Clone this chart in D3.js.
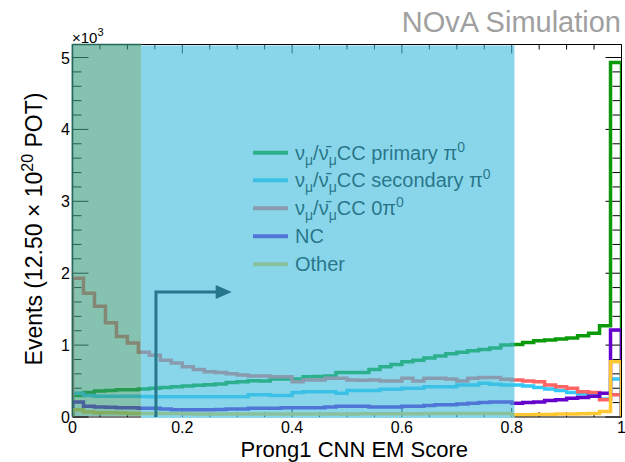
<!DOCTYPE html>
<html>
<head>
<meta charset="utf-8">
<script src="https://cdn.jsdelivr.net/npm/d3@7"></script>
<style>
  html, body { margin: 0; padding: 0; background: #fff; }
  svg { display: block; font-family: "Liberation Sans", Arial, Helvetica, sans-serif; }
</style>
</head>
<body>
<svg id="chart" width="625" height="462"></svg>
<script>
// Prong1 CNN EM score, 50 bins from 0 to 1; events per bin.
const nBins = 50;
const binEdges = d3.range(nBins + 1).map(i => i / nBins);

const primaryPi0 = [300, 340, 360, 370, 380, 380, 390, 400, 410, 420,
  430, 440, 450, 460, 480, 490, 505, 500, 530, 530,
  530, 560, 565, 570, 620, 620, 620, 660, 700, 730,
  770, 790, 820, 850, 880, 900, 920, 940, 960, 1000,
  1010, 1035, 1060, 1070, 1085, 1100, 1130, 1165, 1270, 4930];

const secondaryPi0 = [330, 300, 290, 290, 290, 290, 285, 280, 280, 280,
  280, 280, 280, 280, 280, 280, 310, 310, 300, 300,
  340, 350, 350, 350, 330, 370, 370, 370, 385, 385,
  400, 400, 420, 420, 420, 445, 445, 470, 455, 445,
  445, 430, 410, 390, 370, 340, 320, 300, 250, 530];

const zeroPi0 = [1930, 1720, 1540, 1310, 1120, 1030, 900, 860, 790, 750,
  700, 660, 630, 620, 600, 585, 570, 570, 560, 560,
  490, 515, 515, 540, 540, 515, 510, 515, 500, 500,
  540, 500, 540, 540, 530, 500, 540, 550, 550, 525,
  515, 500, 490, 445, 420, 400, 350, 340, 240, 310];

const neutralCurrent = [210, 150, 140, 135, 130, 130, 120, 120, 110, 100,
  100, 100, 100, 105, 110, 110, 120, 120, 120, 130,
  130, 130, 130, 140, 150, 150, 150, 140, 140, 140,
  150, 150, 160, 170, 170, 180, 190, 200, 210, 210,
  190, 200, 210, 230, 240, 260, 270, 290, 330, 1210];

const other = [100, 70, 60, 60, 55, 50, 50, 50, 50, 50,
  45, 40, 40, 40, 40, 40, 40, 40, 40, 40,
  40, 40, 40, 40, 40, 40, 45, 45, 45, 45,
  45, 45, 50, 50, 50, 50, 50, 50, 50, 50,
  30, 30, 35, 35, 40, 40, 45, 50, 75, 770];

const seriesNames = ["primary", "secondary", "zero", "nc", "other"];
const seriesColors = ["#0a9a0a", "#33c8f5", "#ff6464", "#6600cc", "#ffc833"];
const seriesValues = [primaryPi0, secondaryPi0, zeroPi0, neutralCurrent, other];

// Selection regions along the score axis and the cut marker
const leftBand = [0, 0.125];
const mainBand = [0.125, 0.805];
const cutValue = 0.152;
const cutArrowHeight = 1740;
const cutArrowEnd = 0.29;

const xTickValues = [0, 0.2, 0.4, 0.6, 0.8, 1];
const xTickLabels = ["0", "0.2", "0.4", "0.6", "0.8", "1"];
const yTickValues = [0, 1000, 2000, 3000, 4000, 5000];
const yTickLabels = ["0", "1", "2", "3", "4", "5"];

const svg = d3.select("#chart");
const pL = 72.5, pR = 621.5, pT = 44.5, pB = 417;

const x = d3.scaleLinear().domain([0, 1]).range([pL, pR]);
const y = d3.scaleLinear().domain([0, 5181]).range([pB, pT]);

svg.append("defs").append("clipPath").attr("id", "plotClip")
  .append("rect").attr("x", pL).attr("y", pT)
  .attr("width", pR - pL).attr("height", pB - pT);

// Axes with ROOT-style inward ticks on all four sides
function tickAxis(g, scale, ticks, len, orient) {
  ticks.forEach(t => {
    const p = scale(t);
    if (orient === "bottom") g.append("line").attr("x1", p).attr("x2", p).attr("y1", pB).attr("y2", pB - len);
    if (orient === "top") g.append("line").attr("x1", p).attr("x2", p).attr("y1", pT).attr("y2", pT + len);
    if (orient === "left") g.append("line").attr("y1", p).attr("y2", p).attr("x1", pL).attr("x2", pL + len);
    if (orient === "right") g.append("line").attr("y1", p).attr("y2", p).attr("x1", pR).attr("x2", pR - len);
  });
}
const axes = svg.append("g").attr("stroke", "#000").attr("stroke-width", 1);
const xMinor = d3.range(21).map(i => i * 0.05).filter(v => Math.abs(v * 5 - Math.round(v * 5)) > 1e-6);
const yMinor = d3.range(26).map(i => i * 200).filter(v => v % 1000 !== 0 && v < 5181);
tickAxis(axes, x, xTickValues, 9, "bottom");
tickAxis(axes, x, xMinor, 5, "bottom");
tickAxis(axes, x, xTickValues, 9, "top");
tickAxis(axes, x, xMinor, 5, "top");
tickAxis(axes, y, yTickValues, 16, "left");
tickAxis(axes, y, yMinor, 9, "left");
tickAxis(axes, y, yTickValues, 16, "right");
tickAxis(axes, y, yMinor, 9, "right");

// Histograms drawn as step outlines
const stepLine = d3.line().x(d => x(d[0])).y(d => y(d[1]));
const histG = svg.append("g").attr("clip-path", "url(#plotClip)");
seriesValues.forEach((vals, s) => {
  const pts = [[binEdges[0], 0]];
  vals.forEach((v, i) => { pts.push([binEdges[i], v]); pts.push([binEdges[i + 1], v]); });
  pts.push([binEdges[nBins], 0]);
  histG.append("path").attr("class", "hist-" + seriesNames[s])
    .attr("d", stepLine(pts))
    .attr("fill", "none").attr("stroke", seriesColors[s])
    .attr("stroke-width", 3.5).attr("stroke-linejoin", "miter");
});

// Legend
const legendRows = [
  ["CC primary π", "0"],
  ["CC secondary π", "0"],
  ["CC 0π", "0"],
  ["NC", null],
  ["Other", null]
];
const legendY = [152.7, 180.2, 208.2, 236.2, 264.3];
const legend = svg.append("g");
legendRows.forEach((row, i) => {
  const ly = legendY[i];
  legend.append("line").attr("x1", 253).attr("x2", 288).attr("y1", ly).attr("y2", ly)
    .attr("stroke", seriesColors[i]).attr("stroke-width", 4);
  const t = legend.append("text").attr("x", 295).attr("y", ly + 7)
    .attr("font-size", 20).attr("fill", "#000");
  if (i < 3) {
    t.append("tspan").text("ν");
    t.append("tspan").attr("font-size", 14).attr("dy", 5).text("μ");
    t.append("tspan").attr("dy", -5).text("/");
    t.append("tspan").text("ν\u0304");
    t.append("tspan").attr("font-size", 14).attr("dy", 5).text("μ");
    t.append("tspan").attr("dy", -5).text(row[0]);
    t.append("tspan").attr("font-size", 14).attr("dy", -8).text(row[1]);
  } else {
    t.text(row[0]);
  }
});

// Shaded regions
svg.append("rect").attr("x", x(leftBand[0]) - 1).attr("y", pT - 0.5)
  .attr("width", x(leftBand[1]) - x(leftBand[0]) + 1).attr("height", pB - pT - 0.5)
  .attr("fill", "rgb(58,157,128)").attr("fill-opacity", 0.62);
svg.append("rect").attr("x", x(mainBand[0])).attr("y", pT + 1)
  .attr("width", x(mainBand[1]) - x(mainBand[0])).attr("height", pB - pT)
  .attr("fill", "rgb(65,189,221)").attr("fill-opacity", 0.62);

// Frame
svg.append("line").attr("x1", x(mainBand[0])).attr("x2", pR).attr("y1", pT).attr("y2", pT)
  .attr("stroke", "#000");
svg.append("line").attr("x1", x(mainBand[1])).attr("x2", pR).attr("y1", pB).attr("y2", pB)
  .attr("stroke", "#000");
svg.append("line").attr("x1", pR).attr("x2", pR).attr("y1", pT).attr("y2", pB)
  .attr("stroke", "#000");
svg.append("line").attr("x1", pL).attr("x2", x(mainBand[0])).attr("y1", pB).attr("y2", pB)
  .attr("stroke", "#000");
svg.append("line").attr("x1", pL).attr("x2", pL).attr("y1", pT).attr("y2", pB)
  .attr("stroke", "#26665a").attr("stroke-width", 1.5);
svg.append("line").attr("x1", pL).attr("x2", x(leftBand[1])).attr("y1", pT).attr("y2", pT)
  .attr("stroke", "#26665a").attr("stroke-width", 1.5);

// Cut arrow
const arrowColor = "#26768c";
svg.append("path")
  .attr("d", `M${x(cutValue)},${y(0)}V${y(cutArrowHeight)}H${x(cutArrowEnd) - 14}`)
  .attr("fill", "none").attr("stroke", arrowColor).attr("stroke-width", 3);
svg.append("path")
  .attr("d", `M${x(cutArrowEnd)},${y(cutArrowHeight)}l-16,-7v14z`)
  .attr("fill", arrowColor);

// Tick labels
const labels = svg.append("g").attr("font-size", 16).attr("fill", "#000");
xTickValues.forEach((v, i) => {
  labels.append("text").attr("x", x(v)).attr("y", 433).attr("text-anchor", "middle").text(xTickLabels[i]);
});
yTickValues.forEach((v, i) => {
  labels.append("text").attr("x", 70).attr("y", y(v) + 6).attr("text-anchor", "end").text(yTickLabels[i]);
});
const mult = svg.append("text").attr("x", 72).attr("y", 43).attr("font-size", 15);
mult.append("tspan").text("×10");
mult.append("tspan").attr("font-size", 11).attr("dy", -7).text("3");

// Axis titles
svg.append("text").attr("x", 468).attr("y", 457).attr("text-anchor", "end")
  .attr("font-size", 22).text("Prong1 CNN EM Score");
const yt = svg.append("text").attr("transform", "translate(42,229) rotate(-90)")
  .attr("text-anchor", "middle").attr("font-size", 23);
yt.append("tspan").text("Events (12.50 × 10");
yt.append("tspan").attr("font-size", 16).attr("dy", -9).text("20");
yt.append("tspan").attr("dy", 9).text(" POT)");

// Title
svg.append("text").attr("x", 621).attr("y", 32).attr("text-anchor", "end")
  .attr("font-size", 29).attr("fill", "#a0a0a0").text("NOvA Simulation");
</script>
</body>
</html>
